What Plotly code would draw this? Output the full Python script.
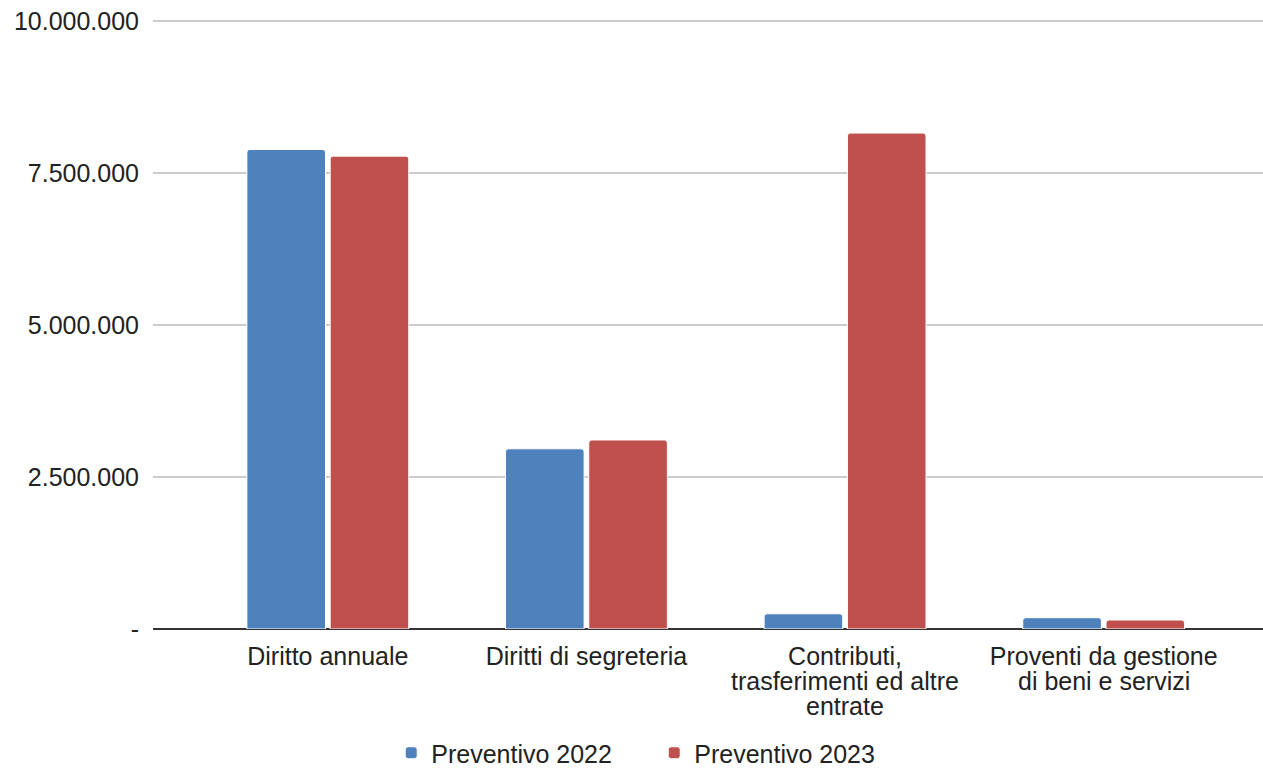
import plotly.graph_objects as go

categories = ["Diritto annuale", "Diritti di segreteria",
              "Contributi,<br>trasferimenti ed altre<br>entrate",
              "Proventi da gestione<br>di beni e servizi"]
series_names = ["Preventivo 2022", "Preventivo 2023"]
values_2022 = [7890000, 2965000, 250000, 186000]
values_2023 = [7780000, 3110000, 8160000, 148000]
colors = ["#4F81BD", "#C0504D"]
tick_vals = [0, 2500000, 5000000, 7500000, 10000000]
tick_text = ["-", "2.500.000", "5.000.000", "7.500.000", "10.000.000"]

FONT = "Arial, Liberation Sans, sans-serif"
FS = 25
TXT = "#222222"
LINE_H = 25

lines = [c.split("<br>") for c in categories]
first_lines = [l[0] for l in lines]
xpos = list(range(len(categories)))

fig = go.Figure()
for name, vals, col in zip(series_names, [values_2022, values_2023], colors):
    fig.add_trace(go.Bar(
        name=name, x=xpos, y=vals,
        marker=dict(color=col, line=dict(color="white", width=1), cornerradius=3),
    ))

# extra lines of wrapped category labels (tighter line spacing than Plotly's default)
annotations = []
for i, l in enumerate(lines):
    for j, txt in enumerate(l[1:], start=1):
        annotations.append(dict(
            x=i, xref="x", y=0, yref="paper", text=txt, showarrow=False,
            xanchor="center", yanchor="middle", yshift=-(27 + LINE_H * j),
            font=dict(family=FONT, size=FS, color=TXT),
        ))

fig.update_layout(
    width=1263, height=776,
    margin=dict(l=153, r=0, t=20, b=147),
    paper_bgcolor="white", plot_bgcolor="white",
    barmode="group", bargap=0.356, bargroupgap=0.056,
    font=dict(family=FONT, size=FS, color=TXT),
    showlegend=True,
    legend=dict(orientation="h", xref="container", x=0.518, xanchor="center",
                yref="container", y=0, yanchor="bottom", entrywidth=218,
                font=dict(family=FONT, size=FS, color=TXT)),
    xaxis=dict(
        tickmode="array", tickvals=xpos, ticktext=first_lines,
        range=[-0.676, 3.616], showgrid=False, showline=False, zeroline=False,
        ticks="", tickfont=dict(family=FONT, size=FS, color=TXT), fixedrange=True,
        ticklabelstandoff=10,
    ),
    yaxis=dict(
        range=[0, 10020000], tickmode="array", tickvals=tick_vals, ticktext=tick_text,
        showgrid=True, gridcolor="#CCCCCC", gridwidth=1.5,
        zeroline=True, zerolinecolor="#333333", zerolinewidth=2,
        showline=False, ticks="", ticklabelstandoff=13,
        tickfont=dict(family=FONT, size=FS, color=TXT), fixedrange=True,
    ),
    annotations=annotations,
)

fig.write_html("out.html", config={"displayModeBar": False},
               post_script="document.body.style.margin='0';document.body.style.overflow='hidden';")
